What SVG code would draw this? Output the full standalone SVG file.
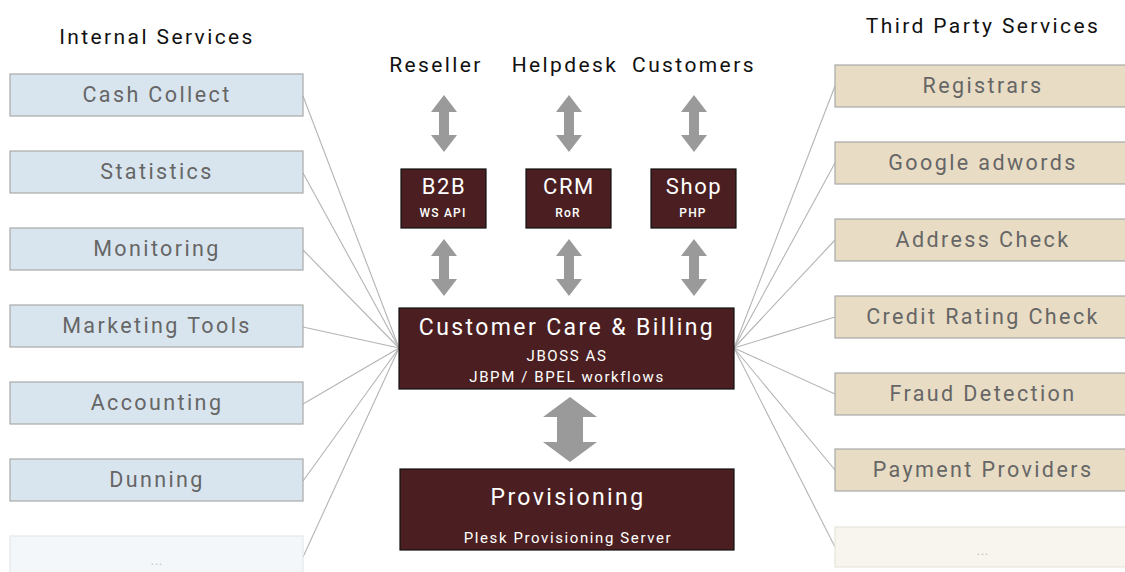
<svg xmlns="http://www.w3.org/2000/svg" width="1125" height="572" viewBox="0 0 1125 572">
  <defs>
    <style>
      text { font-family: "Roboto", "Liberation Sans", sans-serif; text-anchor: middle; }
      .hdr { font-size: 21px; fill: #111; letter-spacing: 2.4px; }
      .int { fill: #d9e5ee; stroke: #a9a9a9; stroke-width: 1.2; }
      .ext { fill: #e8dcc4; stroke: #a9a9a9; stroke-width: 1.2; }
      .int-f { fill: #f3f7fa; stroke: #e4e8ea; stroke-width: 1.2; }
      .ext-f { fill: #f8f5ef; stroke: #e8e4dc; stroke-width: 1.2; }
      .lbl { font-size: 21.5px; fill: #666; letter-spacing: 2.4px; }
      .dots { font-size: 12px; fill: #bbb; letter-spacing: 1px; }
      .core { fill: #4b1f21; stroke: #111; stroke-width: 1.2; }
      .t1 { font-size: 22px; fill: #fff; letter-spacing: 1.6px; }
      .tb { font-size: 23px; fill: #fff; letter-spacing: 2.4px; }
      .t2 { font-size: 12px; fill: #fff; letter-spacing: 1.2px; font-weight: 500; }
      .t3 { font-size: 15px; fill: #fff; letter-spacing: 1.6px; }
      .link { stroke: #b4b4b4; stroke-width: 1.1; fill: none; }
      .arr { fill: #9a9a9a; }
    </style>
  </defs>

  <!-- column headings -->
  <text class="hdr" x="157" y="44">Internal Services</text>
  <text class="hdr" x="983" y="33">Third Party Services</text>
  <text class="hdr" x="436" y="72">Reseller</text>
  <text class="hdr" x="565" y="72">Helpdesk</text>
  <text class="hdr" x="694" y="72">Customers</text>

  <!-- connectors -->
  <g id="connectors">
    <g class="link">
      <line x1="303" y1="96" x2="399" y2="348"/>
      <line x1="303" y1="173" x2="399" y2="348"/>
      <line x1="303" y1="250" x2="399" y2="348"/>
      <line x1="303" y1="327" x2="399" y2="348"/>
      <line x1="303" y1="404" x2="399" y2="348"/>
      <line x1="303" y1="481" x2="399" y2="348"/>
      <line x1="303" y1="557" x2="399" y2="348"/>
      <line x1="835" y1="86" x2="734" y2="348"/>
      <line x1="835" y1="163" x2="734" y2="348"/>
      <line x1="835" y1="240" x2="734" y2="348"/>
      <line x1="835" y1="317" x2="734" y2="348"/>
      <line x1="835" y1="394" x2="734" y2="348"/>
      <line x1="835" y1="470" x2="734" y2="348"/>
      <line x1="835" y1="547" x2="734" y2="348"/>
    </g>
    <g class="arr">
      <!-- upper double arrows -->
      <path d="M444,95 L457,112 L449,112 L449,135 L457,135 L444,152 L431,135 L439,135 L439,112 L431,112 Z"/>
      <path d="M569,95 L582,112 L574,112 L574,135 L582,135 L569,152 L556,135 L564,135 L564,112 L556,112 Z"/>
      <path d="M694,95 L707,112 L699,112 L699,135 L707,135 L694,152 L681,135 L689,135 L689,112 L681,112 Z"/>
      <!-- middle double arrows -->
      <path d="M444,239 L457,256 L449,256 L449,279 L457,279 L444,296 L431,279 L439,279 L439,256 L431,256 Z"/>
      <path d="M569,239 L582,256 L574,256 L574,279 L582,279 L569,296 L556,279 L564,279 L564,256 L556,256 Z"/>
      <path d="M694,239 L707,256 L699,256 L699,279 L707,279 L694,296 L681,279 L689,279 L689,256 L681,256 Z"/>
      <!-- large double arrow -->
      <path d="M570,397 L597,417 L583,417 L583,442 L597,442 L570,462 L543,442 L557,442 L557,417 L543,417 Z"/>
    </g>
  </g>

  <!-- internal services -->
  <g id="cash-collect"><rect class="int" x="10" y="74" width="293" height="42"/><text class="lbl" x="157" y="102">Cash Collect</text></g>
  <g id="statistics"><rect class="int" x="10" y="151" width="293" height="42"/><text class="lbl" x="157" y="179">Statistics</text></g>
  <g id="monitoring"><rect class="int" x="10" y="228" width="293" height="42"/><text class="lbl" x="157" y="256">Monitoring</text></g>
  <g id="marketing-tools"><rect class="int" x="10" y="305" width="293" height="42"/><text class="lbl" x="157" y="333">Marketing Tools</text></g>
  <g id="accounting"><rect class="int" x="10" y="382" width="293" height="42"/><text class="lbl" x="157" y="410">Accounting</text></g>
  <g id="dunning"><rect class="int" x="10" y="459" width="293" height="42"/><text class="lbl" x="157" y="487">Dunning</text></g>
  <g id="internal-more"><rect class="int-f" x="10" y="536" width="293" height="42"/><text class="dots" x="157" y="565">...</text></g>

  <!-- third party services -->
  <g id="registrars"><rect class="ext" x="835" y="65" width="300" height="42"/><text class="lbl" x="983" y="93">Registrars</text></g>
  <g id="google-adwords"><rect class="ext" x="835" y="142" width="300" height="42"/><text class="lbl" x="983" y="170">Google adwords</text></g>
  <g id="address-check"><rect class="ext" x="835" y="219" width="300" height="42"/><text class="lbl" x="983" y="247">Address Check</text></g>
  <g id="credit-rating-check"><rect class="ext" x="835" y="296" width="300" height="42"/><text class="lbl" x="983" y="324">Credit Rating Check</text></g>
  <g id="fraud-detection"><rect class="ext" x="835" y="373" width="300" height="42"/><text class="lbl" x="983" y="401">Fraud Detection</text></g>
  <g id="payment-providers"><rect class="ext" x="835" y="449" width="300" height="42"/><text class="lbl" x="983" y="477">Payment Providers</text></g>
  <g id="external-more"><rect class="ext-f" x="835" y="527" width="300" height="40"/><text class="dots" x="983" y="555">...</text></g>

  <!-- front ends -->
  <g id="b2b"><rect class="core" x="401" y="169" width="85" height="59"/><text class="t1" x="444" y="194">B2B</text><text class="t2" x="443" y="217">WS API</text></g>
  <g id="crm"><rect class="core" x="526" y="169" width="85" height="59"/><text class="t1" x="569" y="194">CRM</text><text class="t2" x="568" y="217">RoR</text></g>
  <g id="shop"><rect class="core" x="651" y="169" width="85" height="59"/><text class="t1" x="694" y="194">Shop</text><text class="t2" x="693" y="217">PHP</text></g>

  <!-- core systems -->
  <g id="customer-care-billing">
    <rect class="core" x="399" y="308" width="335" height="81"/>
    <text class="tb" x="567" y="335">Customer Care &amp; Billing</text>
    <text class="t3" x="567" y="361">JBOSS AS</text>
    <text class="t3" x="567" y="382">JBPM / BPEL workflows</text>
  </g>
  <g id="provisioning">
    <rect class="core" x="400" y="469" width="334" height="81"/>
    <text class="tb" x="568" y="505">Provisioning</text>
    <text class="t3" x="568" y="543">Plesk Provisioning Server</text>
  </g>
</svg>
